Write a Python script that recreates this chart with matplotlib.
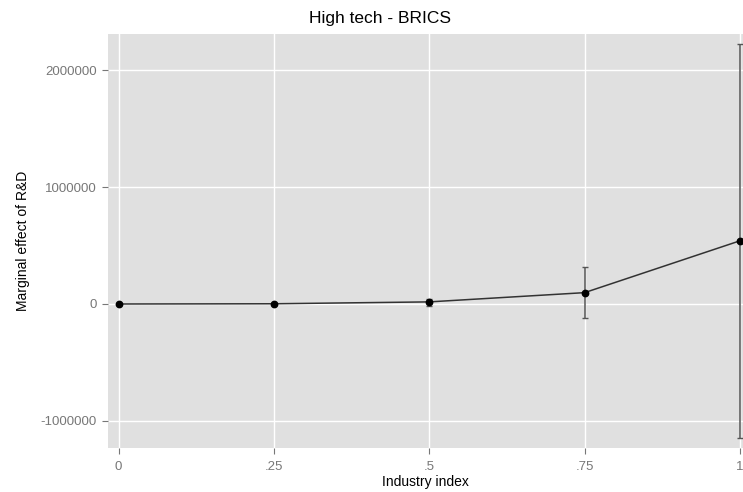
import matplotlib.pyplot as plt

# Marginal effect values
industry_index = [0, 0.25, 0.5, 0.75, 1.0]
effect = [0, 2000, 18000, 97000, 540000]
ci_low = [-3000, -4000, -15000, -122000, -1143000]
ci_high = [3000, 8000, 45000, 314000, 2220000]

x_ticks = [0, 0.25, 0.5, 0.75, 1.0]
x_tick_labels = ["0", ".25", ".5", ".75", "1"]
y_ticks = [-1000000, 0, 1000000, 2000000]
y_tick_labels = ["-1000000", "0", "1000000", "2000000"]

plt.rcParams['font.family'] = ['Liberation Sans', 'DejaVu Sans']

fig = plt.figure(figsize=(7.43, 4.92), dpi=100)
ax = fig.add_axes([108 / 743, 1 - 448 / 492, 635 / 743, 414 / 492])
ax.set_facecolor('#e0e0e0')

yerr = [[e - lo for e, lo in zip(effect, ci_low)],
        [hi - e for e, hi in zip(effect, ci_high)]]
ax.errorbar(industry_index, effect, yerr=yerr, fmt='none', ecolor='#555555',
            elinewidth=1.1, capsize=2.5, capthick=1, zorder=3)
ax.plot(industry_index, effect, color='#333333', lw=1.1, zorder=4)
ax.plot(industry_index, effect, 'o', color='black', ms=4.6, zorder=5)

ax.set_xlim(-0.017, 1.005)
ax.set_ylim(-1231000, 2308000)
ax.set_xticks(x_ticks)
ax.set_xticklabels(x_tick_labels)
ax.set_yticks(y_ticks)
ax.set_yticklabels(y_tick_labels)
ax.grid(True, color='white', lw=1)
ax.set_axisbelow(True)
for s in ax.spines.values():
    s.set_visible(False)
ax.tick_params(colors='#777777', labelsize=9.5, length=4, width=0.8, pad=4)
ax.tick_params(axis='x', pad=5)

ax.set_xlabel("Industry index", fontsize=10, labelpad=2)
ax.set_ylabel("Marginal effect of R&D", fontsize=10, labelpad=8)
fig.text(380 / 743, 1 - 19 / 492, "High tech - BRICS", fontsize=12.5,
         ha='center', va='center')

fig.savefig("out.png", dpi=100)
